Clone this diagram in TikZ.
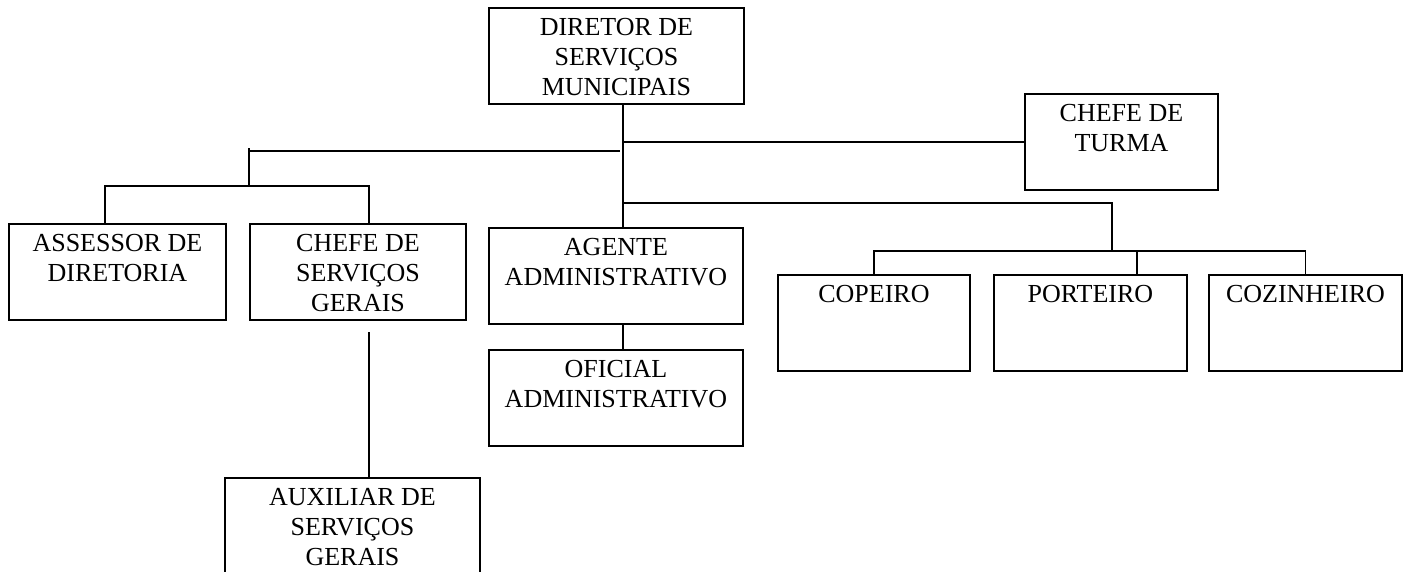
\documentclass[tikz,border=0pt]{standalone}
\usepackage{fontspec}
\setmainfont{Liberation Serif}

% Text of one box, lines from the top
\newcommand{\cargo}[1]{\begin{tabular}[t]{@{}c@{}}#1\end{tabular}}

\begin{document}
\begin{tikzpicture}[x=1pt, y=-1pt, line width=1.9pt,
    posto/.style={draw, anchor=north west, inner sep=0pt,
        text height=28pt, text depth=68pt,
        font=\fontsize{26pt}{30pt}\selectfont}]

    % Define the position of the main vertical line
    \def\trunkX{623}

    \useasboundingbox (0,0) rectangle (1408,571);

    % Draw the boxes
    \node[posto, minimum width=255pt] (dir) at (488,7) {\cargo{DIRETOR DE\\SERVIÇOS\\MUNICIPAIS}};
    \node[posto, minimum width=193pt] (turma) at (1024,93) {\cargo{CHEFE DE\\TURMA}};
    \node[posto, minimum width=217pt] (assessor) at (8,223) {\cargo{ASSESSOR DE\\DIRETORIA}};
    \node[posto, minimum width=216pt] (chefesg) at (249,223) {\cargo{CHEFE DE\\SERVIÇOS\\GERAIS}};
    \node[posto, minimum width=254pt] (agente) at (488,227) {\cargo{AGENTE\\ADMINISTRATIVO}};
    \node[posto, minimum width=254pt] (oficial) at (488,349) {\cargo{OFICIAL\\ADMINISTRATIVO}};
    \node[posto, minimum width=192pt] (copeiro) at (777,274) {\cargo{COPEIRO}};
    \node[posto, minimum width=193pt] (porteiro) at (993,274) {\cargo{PORTEIRO}};
    \node[posto, minimum width=193pt] (cozinheiro) at (1208,274) {\cargo{COZINHEIRO}};
    \node[posto, minimum width=255pt] (auxiliar) at (224,477) {\cargo{AUXILIAR DE\\SERVIÇOS\\GERAIS}};

    % Main vertical line
    \coordinate (trunk) at (\trunkX,0);
    \draw (dir.south -| trunk) -- (agente.north -| trunk);
    \draw (agente.south -| trunk) -- (oficial.north -| trunk);
    \draw (turma.west) -- (turma.west -| trunk);

    % Left branch
    \coordinate (eN) at (249,148);
    \coordinate (eL) at (249,151);
    \coordinate (eR) at (620,151);
    \coordinate (eB) at (249,186);
    \coordinate (aX) at (105,186);
    \coordinate (cX) at (369,186);
    \draw (eL) -- (eR);
    \draw (eN) -- (eB);
    \draw (assessor.north -| aX) -- (aX) -- (cX) -- (chefesg.north -| cX);
    \coordinate (sX) at (369,332);
    \draw (sX) -- (auxiliar.north -| sX);

    % Right branch
    \coordinate (dB) at (1112,203);
    \coordinate (dC) at (1112,251);
    \draw (dB -| trunk) -- (dB) -- (dC);
    \draw (copeiro.north) -- (copeiro.north |- dC) -- (cozinheiro.north |- dC) -- (cozinheiro.north);
    \coordinate (pX) at (1137,251);
    \draw (pX) -- (porteiro.north -| pX);

\end{tikzpicture}
\end{document}
